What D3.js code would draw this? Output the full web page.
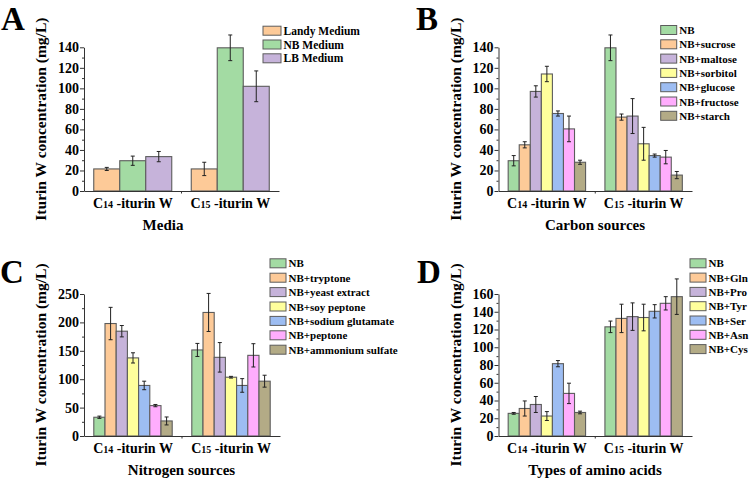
<!DOCTYPE html>
<html><head><meta charset="utf-8">
<script src="https://cdn.jsdelivr.net/npm/d3@7"></script>
<style>body{margin:0;background:#fff}svg{display:block}text{font-family:"Liberation Serif","Times New Roman",serif;font-weight:bold;fill:#000}</style>
</head><body>
<svg id="c" width="750" height="480"></svg>
<script>
const groups = ["C14", "C15"];

const mediaSeries = ["Landy Medium", "NB Medium", "LB Medium"];
const mediaC14 = [21.5, 29.5, 33.5];
const mediaC14Err = [1.5, 4.5, 5];
const mediaC15 = [21.5, 139.5, 102];
const mediaC15Err = [6.5, 12.5, 15];

const carbonSeries = ["NB", "NB+sucrose", "NB+maltose", "NB+sorbitol", "NB+glucose", "NB+fructose", "NB+starch"];
const carbonC14 = [29.5, 45, 97, 114, 75.5, 60.5, 28];
const carbonC14Err = [5, 3, 5.5, 7.5, 2.5, 12.5, 2];
const carbonC15 = [139.5, 72, 73, 46, 34.5, 33, 15.5];
const carbonC15Err = [12.5, 3, 17, 16, 1.5, 6.5, 3.5];

const nitrogenSeries = ["NB", "NB+tryptone", "NB+yeast extract", "NB+soy peptone", "NB+sodium glutamate", "NB+peptone", "NB+ammonium sulfate"];
const nitrogenC14 = [33, 198, 184.5, 137.5, 89, 53.5, 26.5];
const nitrogenC14Err = [2, 28.5, 10, 9, 7.5, 2, 7];
const nitrogenC15 = [151.5, 217.5, 138.5, 103.5, 89, 142, 96.5];
const nitrogenC15Err = [11.5, 33.5, 26, 1.5, 12, 20.5, 10.5];

const aminoSeries = ["NB", "NB+Gln", "NB+Pro", "NB+Tyr", "NB+Ser", "NB+Asn", "NB+Cys"];
const aminoC14 = [25.5, 31, 35.5, 22.5, 81.5, 48, 26.5];
const aminoC14Err = [1, 8.5, 9, 5, 3.5, 11.5, 1.5];
const aminoC15 = [123, 132.5, 134.5, 133.5, 140.5, 149.5, 157];
const aminoC15Err = [6.5, 16, 15.5, 15, 7.5, 7.5, 20];

const ticksA = [0, 20, 40, 60, 80, 100, 120, 140];
const ticksC = [0, 50, 100, 150, 200, 250];
const ticksD = [0, 20, 40, 60, 80, 100, 120, 140, 160];

const green = "#a3dba3", orange = "#fdca98", purple = "#c6b3da", yellow = "#ffff9c",
      blue = "#9dbdf2", pink = "#ffadfd", olive = "#b3ab86";
const colors7 = [green, orange, purple, yellow, blue, pink, olive];
const colorsA = [orange, green, purple];

const svg = d3.select("#c");

function panel(cfg) {
  const g = svg.append("g");
  const x0 = d3.scaleBand().domain(groups).range([cfg.x0, cfg.x1]).paddingInner(0.2).paddingOuter(0.1);
  const x1 = d3.scaleBand().domain(cfg.series).range([0, x0.bandwidth()]);
  const y = d3.scaleLinear().domain([0, cfg.max]).range([cfg.y0, cfg.y1]);
  const color = d3.scaleOrdinal().domain(cfg.series).range(cfg.colors);

  const rows = [];
  cfg.series.forEach((s, i) => {
    rows.push({grp: "C14", s, v: cfg.v14[i], e: cfg.e14[i]});
    rows.push({grp: "C15", s, v: cfg.v15[i], e: cfg.e15[i]});
  });

  g.selectAll("rect.bar").data(rows).join("rect").attr("class", "bar")
    .attr("x", d => x0(d.grp) + x1(d.s))
    .attr("y", d => y(d.v))
    .attr("width", x1.bandwidth())
    .attr("height", d => y(0) - y(d.v))
    .attr("fill", d => color(d.s))
    .attr("stroke", "#5c5c5c").attr("stroke-width", 1.1);

  const eb = g.selectAll("g.err").data(rows).join("g").attr("class", "err")
    .attr("stroke", "#222").attr("stroke-width", 1);
  eb.append("line")
    .attr("x1", d => x0(d.grp) + x1(d.s) + x1.bandwidth() / 2)
    .attr("x2", d => x0(d.grp) + x1(d.s) + x1.bandwidth() / 2)
    .attr("y1", d => y(d.v + d.e)).attr("y2", d => y(d.v - d.e));
  [1, -1].forEach(sg => {
    eb.append("line")
      .attr("x1", d => x0(d.grp) + x1(d.s) + x1.bandwidth() / 2 - 2)
      .attr("x2", d => x0(d.grp) + x1(d.s) + x1.bandwidth() / 2 + 2)
      .attr("y1", d => y(d.v + sg * d.e)).attr("y2", d => y(d.v + sg * d.e));
  });

  // y axis
  const minor = d3.range(cfg.step / 2, cfg.max, cfg.step);
  const yMinor = g.append("g").attr("transform", `translate(${cfg.x0},0)`)
    .call(d3.axisLeft(y).tickValues(minor).tickSize(2).tickFormat(""));
  yMinor.select(".domain").remove();
  const yAx = g.append("g").attr("transform", `translate(${cfg.x0},0)`)
    .call(d3.axisLeft(y).tickValues(cfg.ticks).tickSize(4).tickSizeOuter(0).tickPadding(1));
  yAx.selectAll("text").style("font-size", "14px").style("font-family", null);
  g.selectAll(".domain, .tick line").attr("stroke", "#333");

  // x axis
  const xAx = g.append("g").attr("transform", `translate(0,${cfg.y0})`)
    .call(d3.axisBottom(x0).tickSize(0).tickSizeOuter(0).tickPadding(7));
  xAx.select(".domain").attr("stroke", "#333");
  xAx.selectAll("text").style("font-family", null).style("font-size", "14px")
    .each(function(d) {
      const t = d3.select(this); t.text("");
      t.append("tspan").text("C");
      t.append("tspan").style("font-size", "10px").text(d.slice(1));
      t.append("tspan").text(" -iturin W");
    });
  const mid = (x0("C14") + x0.bandwidth() + x0("C15")) / 2;
  g.append("line").attr("x1", mid).attr("x2", mid).attr("y1", cfg.y0).attr("y2", cfg.y0 + 2.5).attr("stroke", "#333");

  // titles
  g.append("text").attr("x", cfg.titleX).attr("y", cfg.y0 + 39).attr("text-anchor", "middle")
    .style("font-size", "15px").text(cfg.xTitle);
  g.append("text").attr("transform", `translate(${cfg.x0 - 38},${(cfg.y0 + cfg.y1) / 2}) rotate(-90)`)
    .attr("text-anchor", "middle").style("font-size", "15.5px").text("Iturin W concentration (mg/L)");
  g.append("text").attr("x", cfg.lx).attr("y", cfg.ly).style("font-size", "33px").text(cfg.letter);

  // legend
  const lg = g.selectAll("g.leg").data(cfg.series).join("g").attr("class", "leg")
    .attr("transform", (d, i) => `translate(${cfg.legX},${cfg.legY + i * cfg.legStep})`);
  lg.append("rect").attr("x", 0).attr("y", -4.5).attr("width", cfg.legW).attr("height", 9)
    .attr("fill", d => color(d)).attr("stroke", "#5c5c5c").attr("stroke-width", 1);
  lg.append("text").attr("x", cfg.legW + 2.5).attr("y", 4).style("font-size", cfg.legFont).text(d => d);
}

panel({series: mediaSeries, v14: mediaC14, e14: mediaC14Err, v15: mediaC15, e15: mediaC15Err,
  colors: colorsA, x0: 84, x1: 279, y0: 191, y1: 47.3, max: 140, step: 20, ticks: ticksA,
  xTitle: "Media", titleX: 163, letter: "A", lx: 1, ly: 30,
  legX: 263, legY: 30.7, legStep: 13.8, legW: 18, legFont: "11.5px"});
panel({series: carbonSeries, v14: carbonC14, e14: carbonC14Err, v15: carbonC15, e15: carbonC15Err,
  colors: colors7, x0: 498.5, x1: 692, y0: 191, y1: 47.3, max: 140, step: 20, ticks: ticksA,
  xTitle: "Carbon sources", titleX: 595, letter: "B", lx: 416, ly: 30,
  legX: 660.7, legY: 30, legStep: 14.3, legW: 16, legFont: "11px"});
panel({series: nitrogenSeries, v14: nitrogenC14, e14: nitrogenC14Err, v15: nitrogenC15, e15: nitrogenC15Err,
  colors: colors7, x0: 84, x1: 280, y0: 436, y1: 294, max: 250, step: 50, ticks: ticksC,
  xTitle: "Nitrogen sources", titleX: 181.5, letter: "C", lx: 0, ly: 283,
  legX: 270, legY: 263.3, legStep: 14.4, legW: 16, legFont: "11px"});
panel({series: aminoSeries, v14: aminoC14, e14: aminoC14Err, v15: aminoC15, e15: aminoC15Err,
  colors: colors7, x0: 498.5, x1: 692, y0: 436, y1: 294, max: 160, step: 20, ticks: ticksD,
  xTitle: "Types of amino acids", titleX: 595, letter: "D", lx: 417, ly: 283,
  legX: 690, legY: 263.3, legStep: 14.3, legW: 16, legFont: "11px"});
</script>
</body></html>
